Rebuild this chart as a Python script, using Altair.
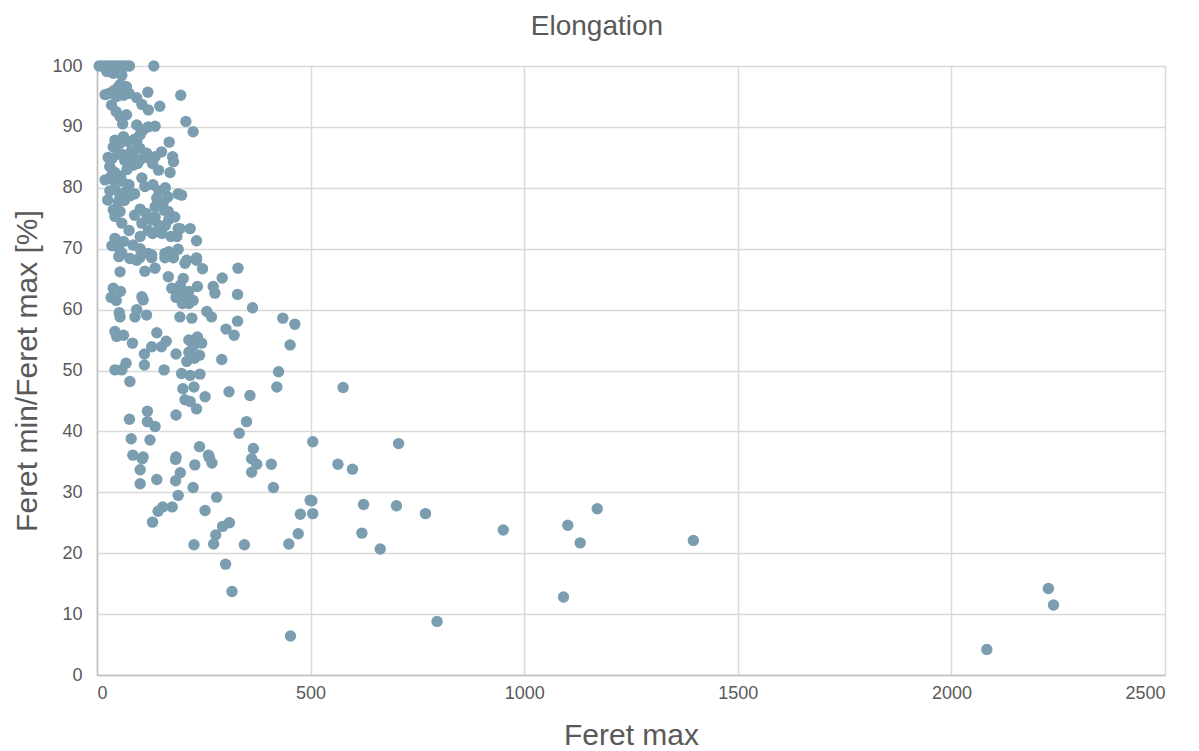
import altair as alt
import pandas as pd

# Feret max values (x) and elongation Feret min/Feret max in % (y)
feret_max = [
    5, 12, 20, 28, 36, 44, 52, 60, 68, 76, 133,
    23, 38, 58, 30, 48,
    19, 34, 50, 69, 46, 62, 93, 105, 119, 196, 120, 147, 55, 40, 75, 28,
    54, 69, 208, 225, 93, 108, 136, 120, 60, 45,
    101, 93, 42, 62, 73, 54, 38, 169, 80, 58, 26, 35, 50, 65, 84, 116, 136, 151, 177, 179, 100, 88,
    171, 144, 30, 42, 50, 34, 55, 84, 95, 101, 117, 19, 38, 58, 105, 112, 70, 75, 130, 160, 190,
    131, 145, 140, 166, 155, 198, 30, 42, 54, 66, 50, 64, 78, 88, 25,
    38, 54, 42, 58, 101, 115, 105, 127, 120, 101, 136, 157, 168, 152, 173, 190, 182, 136, 167,
    218, 233, 194, 187, 88, 75, 145, 130, 160,
    42, 62, 35, 58, 50, 84, 101, 120, 128, 100, 159, 168, 178, 190, 210, 233,
    51, 77, 93, 128, 159, 179, 206, 233,
    54, 112, 136, 167, 202, 247, 293, 330, 272, 276, 329, 364,
    175, 185, 195, 205, 215, 225, 235, 200, 190, 215,
    38, 55, 33, 45, 52, 54, 105, 108, 93, 89, 116, 194, 222, 257, 268, 329, 302, 321, 435, 463, 452,
    42, 62, 46, 83, 140, 162, 151, 128, 111, 111, 68, 42, 58, 185, 210, 215, 225, 235, 215, 245,
    240, 228, 292, 157,
    77, 198, 218, 241, 201, 227, 206, 218, 233, 253, 185, 309, 358, 425, 421, 118, 76, 118, 136,
    350, 333, 576,
    80, 124, 240, 366, 84, 108, 185, 261, 505, 706, 106, 101, 101, 140, 184, 195, 184, 229, 225,
    263, 269, 362, 374, 362, 408, 413, 564, 598,
    190, 280, 253, 176, 154, 143, 130, 310, 294, 278, 273, 227, 345, 449, 471, 476, 499, 503, 505,
    624, 701, 769, 620, 663, 951, 1102, 1171, 1131, 1396,
    301, 316, 453, 796, 1092, 2227, 2239, 2083,
]
elongation = [
    100, 100, 100, 100, 100, 100, 100, 100, 100, 100, 100,
    99.1, 98.8, 98.5, 99.5, 99.2,
    95.3, 93.6, 96.6, 96.6, 95.0, 95.2, 94.8, 93.7, 95.7, 95.2, 92.8, 93.4, 97.0, 96.0, 95.5, 95.5,
    91.7, 92.0, 90.9, 89.2, 90.3, 89.5, 90.1, 90.0, 90.5, 92.5,
    88.7, 87.6, 87.8, 88.4, 87.6, 87.3, 86.7, 87.5, 86.0, 85.5, 85.0, 84.8, 85.5, 84.5, 85.2, 85.7,
    85.1, 85.9, 85.1, 84.3, 86.5, 88.0,
    82.5, 82.9, 83.5, 82.5, 82.0, 82.0, 81.8, 83.7, 84.0, 84.6, 85.0, 81.3, 81.3, 81.1, 81.6, 80.2,
    83.0, 80.5, 84.0, 80.0, 79.0,
    80.5, 79.5, 78.3, 78.5, 77.6, 78.8, 79.5, 79.7, 78.5, 79.3, 77.7, 77.9, 78.7, 79.0, 78.0,
    76.4, 76.1, 75.3, 74.2, 76.5, 75.8, 74.2, 74.7, 73.0, 72.0, 75.2, 76.3, 74.8, 72.5, 72.0, 73.3,
    75.2, 76.9, 76.1,
    73.3, 71.3, 73.3, 72.0, 75.5, 73.0, 73.8, 72.5, 73.8,
    71.7, 71.2, 70.5, 69.3, 70.2, 70.6, 70.0, 69.2, 69.0, 68.5, 69.2, 69.5, 69.0, 69.9, 68.1, 68.5,
    68.7, 68.4, 68.1, 68.5, 68.5, 68.5, 67.6, 68.1,
    66.2, 66.3, 66.8, 65.4, 65.1, 66.7, 65.2, 66.8, 63.8, 62.7, 62.5, 60.3,
    63.5, 62.0, 64.0, 62.5, 63.0, 61.5, 63.8, 61.0, 63.0, 61.0,
    63.5, 63.0, 62.0, 61.5, 59.5, 58.8, 62.1, 61.6, 60.0, 58.8, 59.1, 58.8, 58.6, 59.7, 58.8, 58.1,
    56.8, 55.8, 58.6, 57.6, 54.2,
    56.4, 55.8, 55.6, 54.5, 56.2, 54.8, 53.9, 53.9, 52.7, 50.9, 51.2, 50.1, 50.1, 52.7, 51.5, 55.0,
    54.0, 55.5, 53.0, 54.5, 52.5, 52.0, 51.8, 50.1,
    48.2, 49.5, 49.2, 49.4, 47.0, 47.3, 45.2, 44.9, 43.7, 45.7, 42.7, 46.5, 45.9, 49.8, 47.3, 43.3,
    42.0, 41.6, 40.8, 41.6, 39.7, 47.2,
    38.8, 38.6, 37.5, 37.2, 36.1, 35.8, 35.8, 36.1, 38.3, 38.0, 35.5, 33.7, 31.4, 32.1, 35.4, 33.2,
    31.9, 34.5, 30.8, 35.7, 34.8, 35.5, 34.6, 33.3, 34.6, 30.8, 34.6, 33.8,
    29.5, 29.2, 27.0, 27.6, 27.6, 26.9, 25.1, 25.0, 24.4, 23.0, 21.5, 21.4, 21.4, 21.5, 23.2, 26.4,
    28.7, 28.6, 26.5, 28.0, 27.8, 26.5, 23.3, 20.7, 23.8, 24.6, 27.3, 21.7, 22.1,
    18.2, 13.7, 6.4, 8.8, 12.8, 14.2, 11.5, 4.2,
]

x_ticks = [0, 500, 1000, 1500, 2000, 2500]
y_ticks = [0, 10, 20, 30, 40, 50, 60, 70, 80, 90, 100]

df = pd.DataFrame({"feret_max": feret_max, "elongation": elongation})

FONT = "Liberation Sans"
TEXT = "#595959"
W, H = 1068, 609

chart = (
    alt.Chart(df)
    .mark_circle(size=130, color="#7a9db0", opacity=1)
    .encode(
        x=alt.X(
            "feret_max:Q",
            scale=alt.Scale(domain=[0, 2500], nice=False),
            axis=alt.Axis(
                values=x_ticks,
                format="d",
                title="Feret max",
                titleFont=FONT,
                titleFontSize=30,
                titleFontWeight="normal",
                titleColor=TEXT,
                titleX=W / 2,
                titleY=60,
                titleBaseline="middle",
                titleAlign="center",
                labelFont=FONT,
                labelFontSize=18,
                labelColor=TEXT,
                labelPadding=9,
                ticks=False,
                grid=True,
                gridColor="#d9d9d9",
                gridWidth=1.5,
                domainColor="#bfbfbf",
                domainWidth=1.5,
            ),
        ),
        y=alt.Y(
            "elongation:Q",
            scale=alt.Scale(domain=[0, 100], nice=False),
            axis=alt.Axis(
                values=y_ticks,
                title="Feret min/Feret max [%]",
                titleFont=FONT,
                titleFontSize=30,
                titleFontWeight="normal",
                titleColor=TEXT,
                titleAngle=-90,
                titleX=-70,
                titleY=H / 2,
                titleBaseline="middle",
                titleAlign="center",
                labelFont=FONT,
                labelFontSize=18,
                labelColor=TEXT,
                labelPadding=15,
                ticks=False,
                grid=True,
                gridColor="#d9d9d9",
                gridWidth=1.5,
                domainColor="#bfbfbf",
                domainWidth=1.5,
            ),
        ),
    )
    .properties(
        width=W,
        height=H,
        autosize=alt.AutoSizeParams(type="none"),
        padding={"left": 89, "top": 58, "right": 26, "bottom": 76},
        title=alt.TitleParams(
            "Elongation",
            font=FONT,
            fontSize=28,
            fontWeight="normal",
            color=TEXT,
            anchor="middle",
            baseline="bottom",
            offset=20,
            dx=-34,
            dy=32,
        ),
    )
    .configure_view(stroke=None)
    .configure(background="white")
)

chart.save("out.html", embed_options={"renderer": "svg", "actions": False})
